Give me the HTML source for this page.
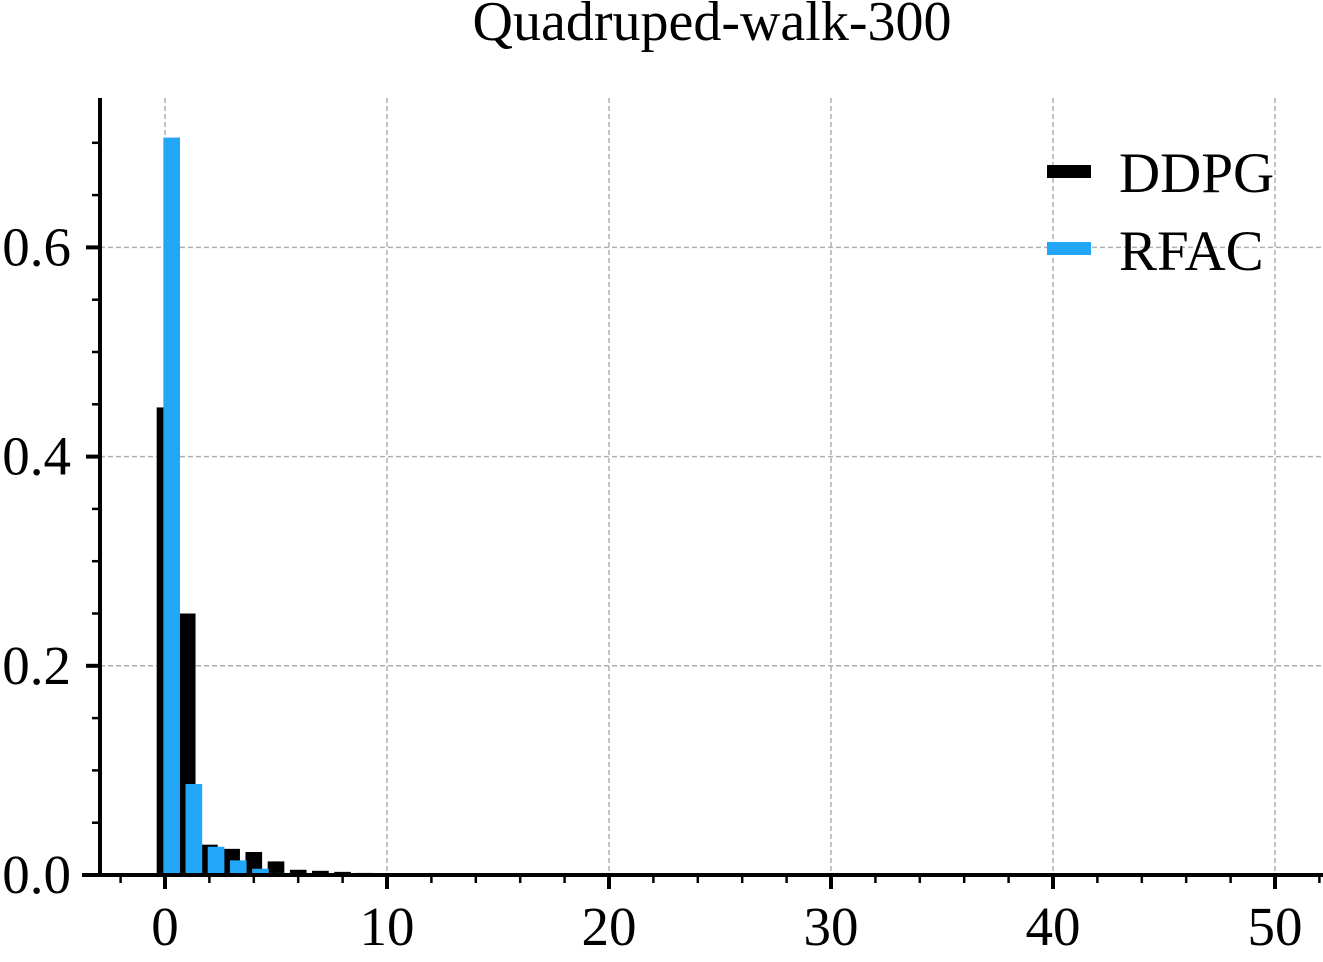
<!DOCTYPE html>
<html><head><meta charset="utf-8"><style>
body{margin:0;background:#fff}
svg text{font-family:"Liberation Serif",serif;fill:#000}
</style></head><body>
<svg id="chart" width="1323" height="957" viewBox="0 0 1323 957" xmlns="http://www.w3.org/2000/svg">
<text x="712" y="40" font-size="56" text-anchor="middle">Quadruped-walk-300</text>
<g id="grid"></g><g id="bars"></g><g id="axes"></g>
<g>
<rect x="1047" y="165" width="44" height="13" fill="#000"/>
<text x="1119" y="192" font-size="57">DDPG</text>
<rect x="1047" y="242" width="44" height="13" fill="#22a7f8"/>
<text x="1119" y="270" font-size="57">RFAC</text>
</g>
</svg>
<script>
const bins=[0,1,2,3,4,5,6,7,8,9,10,11,12,13];
const ddpg=[0.447,0.25,0.029,0.025,0.022,0.013,0.005,0.004,0.003,0.002,0.001,0.001,0.001,0.001];
const rfac=[0.705,0.087,0.027,0.014,0.006,0.002,0.001,0.001,0,0,0,0,0,0];
const xTicks=[0,10,20,30,40,50];
const yTicks=[0.0,0.2,0.4,0.6];
const ns="http://www.w3.org/2000/svg";
const X=v=>165+v*22.2, Y=v=>875-v*1046;
function mk(t,a,p){const e=document.createElementNS(ns,t);for(const k in a)e.setAttribute(k,a[k]);p.appendChild(e);return e;}
const G=document.getElementById('grid'),B=document.getElementById('bars'),A=document.getElementById('axes');
xTicks.forEach(v=>{const l=mk('line',{x1:X(v),x2:X(v),y1:98,y2:875,stroke:'#b0b0b0','stroke-width':1.5,'stroke-dasharray':'5,3'},G);
});
yTicks.forEach(v=>{if(v===0)return;const l=mk('line',{x1:100,x2:1323,y1:Y(v),y2:Y(v),stroke:'#b0b0b0','stroke-width':1.5,'stroke-dasharray':'5,3'},G);
});
const w=0.75*22.2;
bins.forEach((b,i)=>{
 const r=mk('rect',{x:X(b)-w/2,y:Y(ddpg[i]),width:w,height:Y(0)-Y(ddpg[i]),fill:'#000'},B);
 
});
bins.forEach((b,i)=>{
 const r=mk('rect',{x:X(b+0.3)-w/2,y:Y(rfac[i]),width:w,height:Y(0)-Y(rfac[i]),fill:'#22a7f8'},B);
 
});
let ax=mk('line',{x1:82,x2:1323,y1:875,y2:875,stroke:'#000','stroke-width':4},A);

let ay=mk('line',{x1:100,x2:100,y1:98,y2:877,stroke:'#000','stroke-width':4},A);

for(let v=-2;v<=52;v+=2){const maj=v%10===0;mk('line',{x1:X(v),x2:X(v),y1:875,y2:875+(maj?14:8),stroke:'#000','stroke-width':maj?4:2.5},A);}
xTicks.forEach(v=>{const t=mk('text',{x:X(v),y:945,'font-size':55,'text-anchor':'middle'},A);t.textContent=v;
});
for(let k=0;k<=14;k++){const v=k*0.05;const maj=k%4===0;mk('line',{x1:100-(maj?14:8),x2:100,y1:Y(v),y2:Y(v),stroke:'#000','stroke-width':maj?4:2.5},A);}
yTicks.forEach(v=>{const t=mk('text',{x:71,y:Y(v)+18,'font-size':55,'text-anchor':'end'},A);t.textContent=v.toFixed(1);
});
</script>
</body></html>
